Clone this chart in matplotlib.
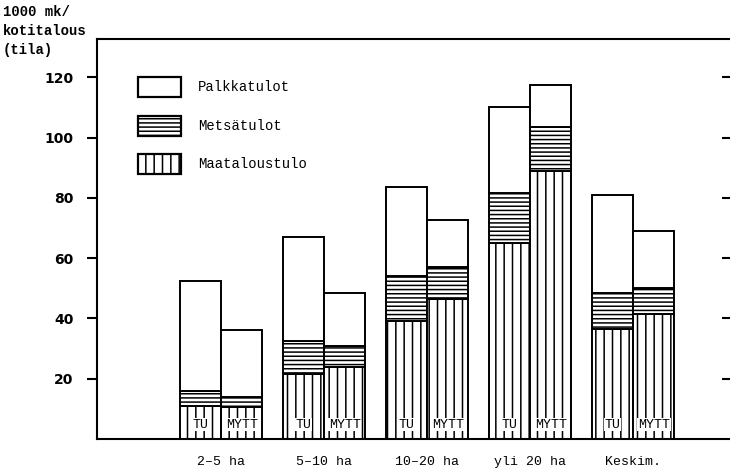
#!/usr/bin/env python3
"""Tulot kotitaloutta kohden tilakokoryhmittäin (TU vs MYTT)."""

import matplotlib
matplotlib.use("Agg")
import matplotlib.pyplot as plt
from matplotlib.patches import Rectangle
import numpy as np

# ---------------------------------------------------------------------------
# Data (1000 mk / kotitalous)
# ---------------------------------------------------------------------------
groups = ["2–5 ha", "5–10 ha", "10–20 ha", "yli 20 ha", "Keskim."]
series = ["TU", "MYTT"]

tu_maatalous = [11.0, 21.5, 39.0, 65.0, 36.5]
tu_metsa = [5.0, 11.0, 15.0, 16.5, 12.0]
tu_palkka = [36.5, 34.5, 29.5, 28.5, 32.5]

mytt_maatalous = [10.5, 24.0, 46.5, 89.0, 41.5]
mytt_metsa = [3.5, 7.0, 10.5, 14.5, 8.5]
mytt_palkka = [22.0, 17.5, 15.5, 14.0, 19.0]

legend_labels = ["Palkkatulot", "Metsätulot", "Maataloustulo"]
yticks = [20, 40, 60, 80, 100, 120]

MONO = "Liberation Mono"
plt.rcParams["hatch.linewidth"] = 1.1
plt.rcParams["hatch.color"] = "black"

fig = plt.figure(figsize=(7.3, 4.7), dpi=100)
ax = fig.add_axes([97 / 730, 31 / 470, 633 / 730, 400 / 470])

x = np.arange(len(groups))
w = 0.4
hatches = ["||", "----", ""]

for off, name, parts in [
    (-w / 2, "TU", [tu_maatalous, tu_metsa, tu_palkka]),
    (w / 2, "MYTT", [mytt_maatalous, mytt_metsa, mytt_palkka]),
]:
    bottom = np.zeros(len(groups))
    for vals, h in zip(parts, hatches):
        ax.bar(x + off, vals, w, bottom=bottom, facecolor="white",
               edgecolor="black", linewidth=1.4, hatch=h)
        bottom += np.array(vals)
    for xi in x:
        ax.text(xi + off, 4.8, name, ha="center", va="center",
                family=MONO, fontsize=9.5,
                bbox=dict(facecolor="white", edgecolor="none", pad=0.6))

ax.set_xlim(-1.204, 4.94)
ax.set_ylim(0, 132.7)

ax.set_xticks(x)
ax.set_xticklabels(groups, family=MONO, fontsize=9.5)
ax.tick_params(axis="x", length=0, pad=12)

ax.set_yticks(yticks)
ax.set_yticklabels([str(t) for t in yticks], fontsize=10, fontweight="bold")
ax.tick_params(axis="y", length=7, width=1.5, direction="out", pad=10)

ax.spines["right"].set_visible(False)
for s in ["left", "bottom", "top"]:
    ax.spines[s].set_linewidth(1.5)

# right-hand tick marks, no spine
ax2 = ax.twinx()
ax2.set_ylim(ax.get_ylim())
ax2.set_yticks(yticks)
ax2.set_yticklabels([])
ax2.tick_params(axis="y", length=6, width=1.5, direction="in")
for s in ax2.spines.values():
    s.set_visible(False)

# legend drawn by hand
box_y = [0.88, 0.7825, 0.6875]
for lab, h, by in zip(legend_labels, ["", "----", "||"], box_y):
    ax.add_patch(Rectangle((0.065, by - 0.025), 0.068, 0.05,
                           transform=ax.transAxes, facecolor="white",
                           edgecolor="black", linewidth=1.6, hatch=h))
    ax.text(0.16, by, lab, transform=ax.transAxes, va="center",
            family=MONO, fontsize=10)

fig.text(0.004, 0.99, "1000 mk/\nkotitalous\n(tila)", ha="left", va="top",
         family=MONO, fontsize=10, fontweight="bold", linespacing=1.45)

fig.savefig("out.png", dpi=100)
plt.close(fig)
